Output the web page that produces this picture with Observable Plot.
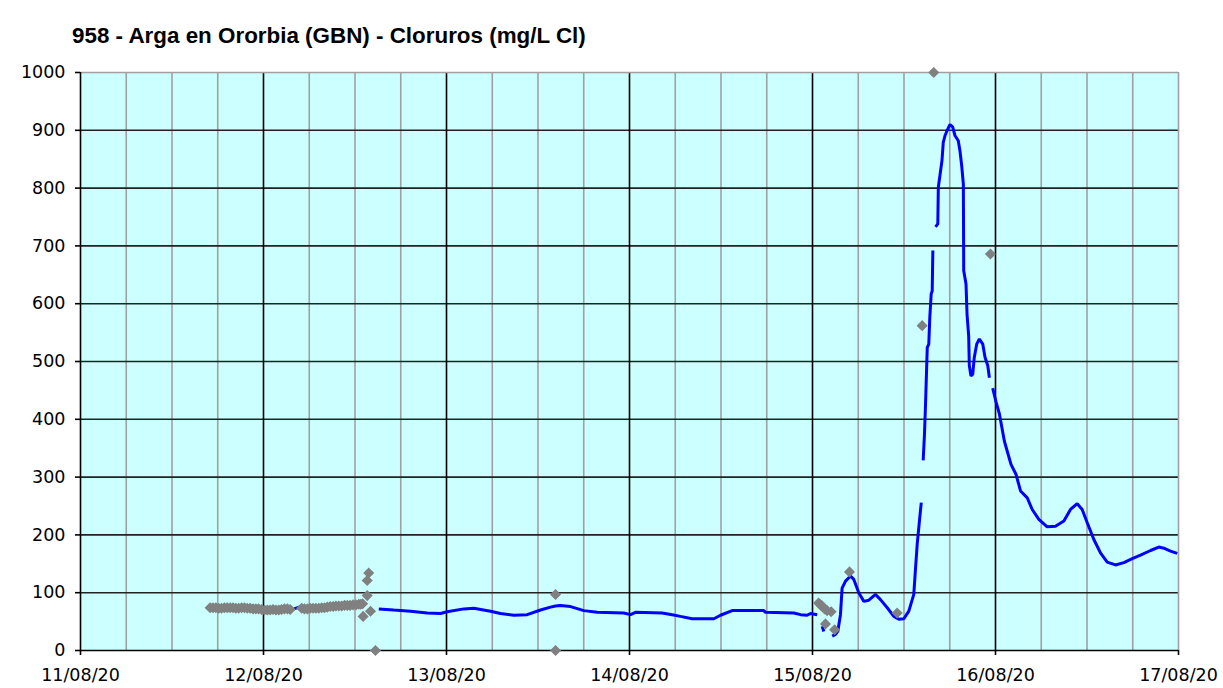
<!DOCTYPE html>
<html><head><meta charset="utf-8">
<script src="https://cdn.jsdelivr.net/npm/d3@7"></script>
<script src="https://cdn.jsdelivr.net/npm/@observablehq/plot@0.6"></script>
<style>
body{margin:0;background:#fff;width:1223px;height:688px;overflow:hidden;position:relative}
#title{position:absolute;left:72px;top:25px;font:bold 22.4px "Liberation Sans",Arial,sans-serif;line-height:22px;color:#000;white-space:nowrap}
#chart{position:absolute;left:0;top:60px}
</style></head><body>
<div id="title">958 - Arga en Ororbia (GBN) - Cloruros (mg/L Cl)</div>
<div id="chart"></div>
<script>
// ---- data (time "MM-DD HH:MM" 2020, value mg/L Cl) ----
const blueHidden = [["08-12 02:00",71],["08-12 04:00",72],["08-12 04:40",75],["08-12 06:30",73],["08-12 09:30",77],["08-12 13:00",80]];
const blueSegB = [["08-12 15:07",72],["08-12 17:05",70],["08-12 19:17",68],["08-12 21:28",65],["08-12 23:13",64],["08-13 00:05",67],["08-13 02:16",72],["08-13 03:35",73],["08-13 05:46",68],["08-13 07:05",64],["08-13 08:50",61],["08-13 10:35",62],["08-13 12:20",70],["08-13 13:38",75],["08-13 14:18",77],["08-13 14:57",78],["08-13 16:16",76],["08-13 18:01",69],["08-13 19:46",66],["08-13 23:15",65],["08-14 00:08",62],["08-14 00:47",66],["08-14 04:17",65],["08-14 05:36",62],["08-14 06:41",59],["08-14 08:13",55],["08-14 11:04",55],["08-14 11:56",61],["08-14 13:28",69],["08-14 17:37",69],["08-14 17:50",66],["08-14 21:33",65],["08-14 22:26",62],["08-14 23:18",61],["08-14 23:44",64],["08-15 00:37",62]];
const blueSegC = [["08-15 01:16",42],["08-15 01:29",33]];
const blueSegD = [["08-15 02:35",25],["08-15 03:01",28],["08-15 03:19",33],["08-15 03:40",62],["08-15 03:53",108],["08-15 04:20",120],["08-15 04:59",129],["08-15 05:25",123],["08-15 06:04",100],["08-15 06:44",85],["08-15 07:23",87],["08-15 08:16",97],["08-15 08:55",88],["08-15 09:48",74],["08-15 10:40",59],["08-15 11:19",54],["08-15 11:59",55],["08-15 12:38",68],["08-15 13:17",97],["08-15 13:31",143],["08-15 13:44",184],["08-15 14:04",230],["08-15 14:16",256]];
const blueSegE = [["08-15 14:31",329],["08-15 14:41",374],["08-15 14:49",423],["08-15 15:03",524],["08-15 15:15",530],["08-15 15:23",576],["08-15 15:34",617],["08-15 15:42",622],["08-15 15:47",692]];
const blueSegF = [["08-15 16:08",733],["08-15 16:26",738],["08-15 16:30",801],["08-15 16:46",827],["08-15 16:59",848],["08-15 17:09",879],["08-15 17:23",891],["08-15 17:44",902],["08-15 18:02",910],["08-15 18:23",906],["08-15 18:41",891],["08-15 19:07",882],["08-15 19:20",865],["08-15 19:34",839],["08-15 19:47",807],["08-15 19:50",657],["08-15 20:08",634],["08-15 20:16",582],["08-15 20:29",544],["08-15 20:34",493],["08-15 20:47",475],["08-15 21:01",478],["08-15 21:13",507],["08-15 21:32",530],["08-15 21:53",539],["08-15 22:20",530],["08-15 22:38",507],["08-15 22:59",493],["08-15 23:12",472]];
const blueSegG = [["08-15 23:38",454],["08-16 00:04",430],["08-16 00:30",410],["08-16 01:10",362],["08-16 02:02",322],["08-16 02:41",305],["08-16 03:17",276],["08-16 04:10",264],["08-16 04:49",244],["08-16 05:41",227],["08-16 06:47",214],["08-16 07:52",215],["08-16 08:58",224],["08-16 09:50",244],["08-16 10:43",254],["08-16 11:22",244],["08-16 12:02",221],["08-16 12:54",192],["08-16 13:46",169],["08-16 14:39",153],["08-16 15:44",148],["08-16 16:50",152],["08-16 17:56",159],["08-16 19:01",165],["08-16 20:20",173],["08-16 21:25",179],["08-16 22:05",177],["08-16 22:57",172],["08-16 23:50",168]];

const grayCluster = [["08-11 17:00",74],["08-11 17:22",74],["08-11 17:45",74],["08-11 18:08",73],["08-11 18:30",73],["08-11 18:52",74],["08-11 19:15",74],["08-11 19:38",74],["08-11 20:00",74],["08-11 20:22",73],["08-11 20:45",73],["08-11 21:08",74],["08-11 21:30",74],["08-11 21:52",73],["08-11 22:15",73],["08-11 22:38",72],["08-11 23:00",72],["08-11 23:22",72],["08-11 23:45",71],["08-12 00:08",70],["08-12 00:30",70],["08-12 00:52",70],["08-12 01:15",71],["08-12 01:38",70],["08-12 02:00",70],["08-12 02:22",71],["08-12 02:45",72],["08-12 03:08",72],["08-12 03:30",71],["08-12 05:00",73],["08-12 05:22",72],["08-12 05:45",72],["08-12 06:08",73],["08-12 06:30",73],["08-12 06:52",73],["08-12 07:15",73],["08-12 07:38",74],["08-12 08:00",74],["08-12 08:22",75],["08-12 08:45",76],["08-12 09:08",76],["08-12 09:30",77],["08-12 09:52",77],["08-12 10:15",77],["08-12 10:38",78],["08-12 11:00",78],["08-12 11:22",78],["08-12 11:45",79],["08-12 12:08",79],["08-12 12:30",80],["08-12 12:45",80],["08-12 13:00",81]];
const graySamples = [["08-12 13:48",134],["08-12 13:36",121],["08-12 13:36",95],["08-12 13:04",59],["08-12 14:02",68],["08-12 14:41",0],["08-13 14:18",97],["08-13 14:18",0],["08-15 00:48",82],["08-15 01:04",79],["08-15 01:16",77],["08-15 01:35",72],["08-15 01:55",69],["08-15 02:27",67],["08-15 01:42",46],["08-15 02:54",36],["08-15 04:51",136],["08-15 11:06",65],["08-15 14:23",562],["08-15 15:54",1000],["08-15 23:20",686]];

const yTicks = [0,100,200,300,400,500,600,700,800,900,1000];
const dayTicks = ["08-11 00:00","08-12 00:00","08-13 00:00","08-14 00:00","08-15 00:00","08-16 00:00","08-17 00:00"];

// ---- build ----
const parseT = d3.timeParse("%Y-%m-%d %H:%M");
const P = s => parseT("2020-" + s);
const days = dayTicks.map(P);
const blueSegs = {A: blueHidden, B: blueSegB, C: blueSegC, D: blueSegD, E: blueSegE, F: blueSegF, G: blueSegG};
const blue = Object.entries(blueSegs).flatMap(([k, arr]) => arr.map(([t, v]) => ({t: P(t), v, seg: k})));
const gray = [...grayCluster, ...graySamples].map(([t, v]) => ({t: P(t), v}));
const minor = d3.timeHour.every(6).range(days[0], days[days.length - 1]).filter(d => d.getHours() !== 0);

const chart = Plot.plot({
  width: 1223, height: 628,
  marginTop: 12, marginRight: 45, marginBottom: 38, marginLeft: 80,
  style: {fontFamily: "'DejaVu Sans', Verdana, sans-serif", fontSize: "17.5px", color: "#000", background: "transparent", overflow: "visible"},
  x: {type: "time", domain: [days[0], days[days.length - 1]]},
  y: {domain: [0, 1000]},
  marks: [
    Plot.frame({fill: "#ccffff", stroke: "none"}),
    Plot.ruleX(minor, {stroke: "#a0a0a0", strokeWidth: 1.6}),
    Plot.ruleY(yTicks.slice(1, -1), {stroke: "#222", strokeWidth: 1.6}),
    Plot.ruleX(days.slice(1, -1), {stroke: "#000", strokeWidth: 1.6}),
    Plot.ruleY([1000], {stroke: "#a0a0a0", strokeWidth: 1.6}),
    Plot.ruleX([days[days.length - 1]], {stroke: "#a0a0a0", strokeWidth: 1.6}),
    Plot.ruleX([days[0]], {stroke: "#000", strokeWidth: 1.6}),
    Plot.ruleY([0], {stroke: "#000", strokeWidth: 1.6}),
    Plot.line(blue, {x: "t", y: "v", z: "seg", stroke: "#0000ff", strokeWidth: 3, strokeLinejoin: "miter", strokeLinecap: "butt"}),
    Plot.dot(gray, {x: "t", y: "v", symbol: "diamond2", fill: "#808080", stroke: "none", r: 5}),
    Plot.axisY({ticks: yTicks, tickFormat: d => String(d), tickSize: 5, tickPadding: 10, label: null, strokeWidth: 1.6, stroke: "#000"}),
    Plot.axisX({ticks: days, tickFormat: d3.timeFormat("%d/%m/%y"), tickSize: 5, tickPadding: 13, label: null, strokeWidth: 1.6, stroke: "#000"})
  ]
});
document.getElementById("chart").appendChild(chart);
</script></body></html>
